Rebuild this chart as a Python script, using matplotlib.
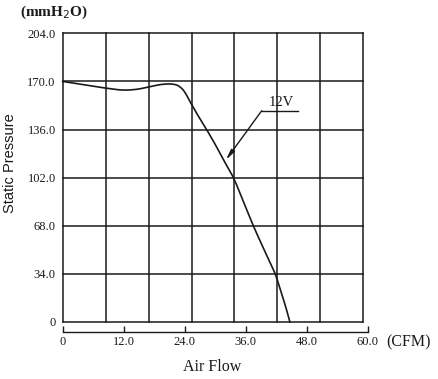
import matplotlib
matplotlib.use("Agg")
import matplotlib.pyplot as plt
import numpy as np

# Data
airflow = [0, 4.0, 8.6, 11.9, 14.5, 17.2, 19.5, 21.1, 22.3, 23.4, 24.2, 25.05, 26.6, 28.3, 30.0, 31.6, 33.57, 35.5, 37.5, 39.5, 40.6, 41.8, 42.8, 43.8, 44.7]
pressure = [170, 167.8, 165.2, 163.9, 164.4, 166.3, 167.9, 168.2, 167.6, 165.1, 161.3, 155.7, 146.0, 136.0, 125.5, 114.8, 102.0, 85.5, 68.0, 52.0, 43.5, 34.0, 23.0, 11.5, 0]
x_ticks = [0, 12, 24, 36, 48, 60]
x_tick_labels = ["0", "12.0", "24.0", "36.0", "48.0", "60.0"]
y_ticks = [0, 34, 68, 102, 136, 170, 204]
y_tick_labels = ["0", "34.0", "68.0", "102.0", "136.0", "170.0", "204.0"]
grid_cols = 7
grid_right = 59.14
curve_label = "12V"

plt.rcParams['font.family'] = ['Liberation Serif', 'DejaVu Serif']

fig = plt.figure(figsize=(4.38, 3.79), dpi=100)
ax = fig.add_axes([62.7/438, 1 - 322/379, 305/438, 288.7/379])
ax.set_xlim(0, 60)
ax.set_ylim(0, 204)

lc = '#1a1a1a'
lw = 1.1
# grid box
for y in y_ticks:
    ax.plot([0, grid_right], [y, y], color=lc, lw=lw, clip_on=False, solid_capstyle='projecting')
for i in range(grid_cols + 1):
    x = grid_right * i / grid_cols
    ax.plot([x, x], [0, 204], color=lc, lw=lw, clip_on=False, solid_capstyle='projecting')

# curve (centripetal Catmull-Rom smoothing through read points)
def catmull(xp, yp, n=20, alpha=0.5):
    P = np.column_stack([xp, yp]).astype(float)
    P = np.vstack([2*P[0]-P[1], P, 2*P[-1]-P[-2]])
    out = []
    for i in range(1, len(P) - 2):
        p0, p1, p2, p3 = P[i-1], P[i], P[i+1], P[i+2]
        t0 = 0.0
        t1 = t0 + np.linalg.norm(p1-p0)**alpha
        t2 = t1 + np.linalg.norm(p2-p1)**alpha
        t3 = t2 + np.linalg.norm(p3-p2)**alpha
        for t in np.linspace(t1, t2, n, endpoint=False):
            A1 = (t1-t)/(t1-t0)*p0 + (t-t0)/(t1-t0)*p1
            A2 = (t2-t)/(t2-t1)*p1 + (t-t1)/(t2-t1)*p2
            A3 = (t3-t)/(t3-t2)*p2 + (t-t2)/(t3-t2)*p3
            B1 = (t2-t)/(t2-t0)*A1 + (t-t0)/(t2-t0)*A2
            B2 = (t3-t)/(t3-t1)*A2 + (t-t1)/(t3-t1)*A3
            out.append((t2-t)/(t2-t1)*B1 + (t-t1)/(t2-t1)*B2)
    out.append(P[-2])
    return np.array(out)
C = catmull(airflow, pressure)
ax.plot(C[:, 0], C[:, 1], color=lc, lw=1.2, clip_on=False)

# annotation
ax.plot([39.15, 46.35], [149.3, 149.3], color=lc, lw=1.0)
ax.annotate("", xy=(32.1, 114.5), xytext=(39.15, 149.3),
            arrowprops=dict(arrowstyle='-|>,head_length=0.6,head_width=0.12', color=lc, lw=1.0, shrinkA=0, shrinkB=0))
ax.text(43.1, 150.5, curve_label, ha='center', va='bottom', fontsize=10.5, color=lc)

# axes styling
for s in ['top', 'right', 'left']:
    ax.spines[s].set_visible(False)
ax.spines['bottom'].set_position(('outward', 7.2))
ax.spines['bottom'].set_color(lc)
ax.spines['bottom'].set_linewidth(1.0)
ax.set_xticks(x_ticks)
ax.set_xticklabels(x_tick_labels, fontsize=9)
ax.tick_params(axis='x', direction='in', length=4, width=1.0, color=lc, pad=3, labelcolor=lc)
ax.set_yticks(y_ticks)
ax.set_yticklabels(y_tick_labels, fontsize=9)
ax.tick_params(axis='y', length=0, pad=5, labelcolor=lc)

fig.text(54/438, 1 - 12/379, "(mmH$_2$O)", ha='center', va='center', fontsize=11, fontweight='bold', color=lc)
fig.text(10.5/438, 1 - 163/379, "Static Pressure", ha='center', va='center', rotation=90, fontsize=10.5,
         family=['Liberation Sans', 'DejaVu Sans'], color=lc)
fig.text(386/438, 1 - 342/379, "(CFM)", ha='left', va='center', fontsize=11.5, color=lc)
fig.text(211.7/438, 1 - 366.7/379, "Air Flow", ha='center', va='center', fontsize=11.5, color=lc)

fig.savefig("out.png", dpi=100)
